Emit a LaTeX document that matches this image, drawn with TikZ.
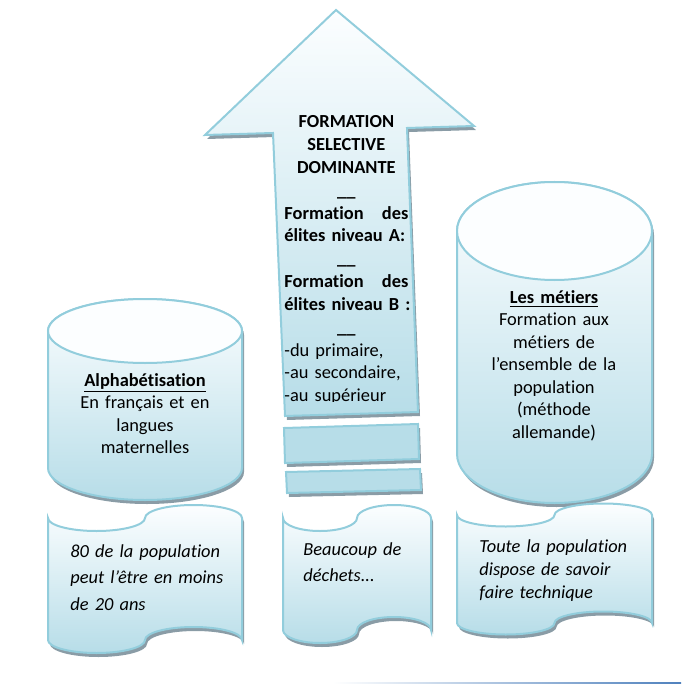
\documentclass[tikz,border=0pt]{standalone}
\usepackage{fontspec}
\setmainfont{Carlito}[Ligatures=NoCommon]
\usepackage{tikz}
\usetikzlibrary{shadows,calc}

\definecolor{contour}{RGB}{146,205,220}
\definecolor{bleu}{RGB}{183,221,232}
\definecolor{clair}{RGB}{252,254,255}
\definecolor{ombre}{RGB}{138,156,166}
\definecolor{filet}{RGB}{79,129,189}

\newcommand{\ligne}[1]{\makebox[62pt]{#1}}

\begin{document}
\begin{tikzpicture}[x=0.5pt, y=-0.5pt,
    ombrage/.style={drop shadow={shadow xshift=1pt, shadow yshift=-2pt, fill=ombre, opacity=1}},
    forme/.style={draw=contour, line width=1pt, top color=clair, bottom color=bleu, ombrage},
    bloc/.style={draw=contour, line width=1pt, fill=bleu, ombrage},
    texte/.style={font=\fontsize{9.2}{11.25}\selectfont, inner sep=0pt, text width=110pt, align=center, anchor=base},
    note/.style={font=\fontsize{9.2}{13.4}\selectfont\itshape, inner sep=0pt, text width=90pt, align=left, anchor=base west}]
    \useasboundingbox (0,0) rectangle (681,684);

    % Fleche centrale
    \draw[forme] (336,10) -- (474,126) -- (407,128) -- (418,412) -- (285,416)
        -- (273,133) -- (205,135) -- cycle;
    \begin{scope}
        \clip (250,0) rectangle (450,401);
        \node[inner sep=0pt, text width=62pt, align=left, anchor=base west,
              font=\fontsize{9.2}{11.4}\selectfont\bfseries] (elites) at (284,128)
            {\ligne{FORMATION}\\ \ligne{SELECTIVE}\\ \ligne{DOMINANTE}\\ \ligne{\_\_}\\
             Formation\hfill des\\ \mbox{élites niveau A:}\\ \ligne{\_\_}\\
             Formation\hfill des\\ \mbox{élites niveau B :}\\ \ligne{\_\_}\\
             \mdseries -du primaire,\\ -au secondaire,\\ -au supérieur};
    \end{scope}

    % Blocs sous la fleche
    \draw[bloc] (284,428) -- (418,424) -- (419,459) -- (285,463) -- cycle;
    \draw[bloc] (286,472) -- (420,469) -- (421,490) -- (287,493) -- cycle;

    % Cylindre gauche
    \draw[forme] (48,331) -- (48,468) arc[start angle=180, end angle=0, x radius=97, y radius=32]
        -- (242,331) arc[start angle=0, end angle=-180, x radius=97, y radius=32] -- cycle;
    \draw[draw=contour, line width=1pt, fill=clair] (145,331) ellipse [x radius=97, y radius=32];
    \node[texte] (alpha) at (145,386)
        {\underline{\textbf{Alphabétisation}}\\En français et en\\langues\\maternelles};

    % Cylindre droit
    \draw[forme] (457,231) -- (457,454) arc[start angle=180, end angle=0, x radius=97.5, y radius=49]
        -- (652,231) arc[start angle=0, end angle=-180, x radius=97.5, y radius=49] -- cycle;
    \draw[draw=contour, line width=1pt, fill=clair] (554.5,231) ellipse [x radius=97.5, y radius=49];
    \node[texte] (metiers) at (554,303)
        {\underline{\textbf{Les métiers}}\\Formation aux\\métiers de\\l’ensemble de la\\population\\(méthode\\allemande)};

    % Rubans du bas
    \foreach \g/\d/\h/\b/\a in {48/242/518/640/13, 283/431/518/630/13, 457/652/515/623/11.5} {
        \pgfmathsetmacro\q{(\d-\g)/4}
        \draw[forme] (\g,\h) arc[start angle=180, end angle=0, x radius=\q, y radius=\a]
            arc[start angle=180, end angle=360, x radius=\q, y radius=\a] -- (\d,\b)
            arc[start angle=0, end angle=-180, x radius=\q, y radius=\a]
            arc[start angle=0, end angle=180, x radius=\q, y radius=\a] -- cycle;
    }
    \node[note] (quatrevingt) at (70,557) {80 de la population\\peut l’être en moins\\de 20 ans};
    \node[note] (dechets) at (303,555) {Beaucoup de\\déchets...};
    \node[note, font=\fontsize{9.2}{11.5}\selectfont\itshape] (savoir) at (479,552)
        {Toute la population\\dispose de savoir\\faire technique};

    % Filet en bas de page
    \shade[left color=white, right color=filet] (333,682) rectangle (681,684);
\end{tikzpicture}
\end{document}
